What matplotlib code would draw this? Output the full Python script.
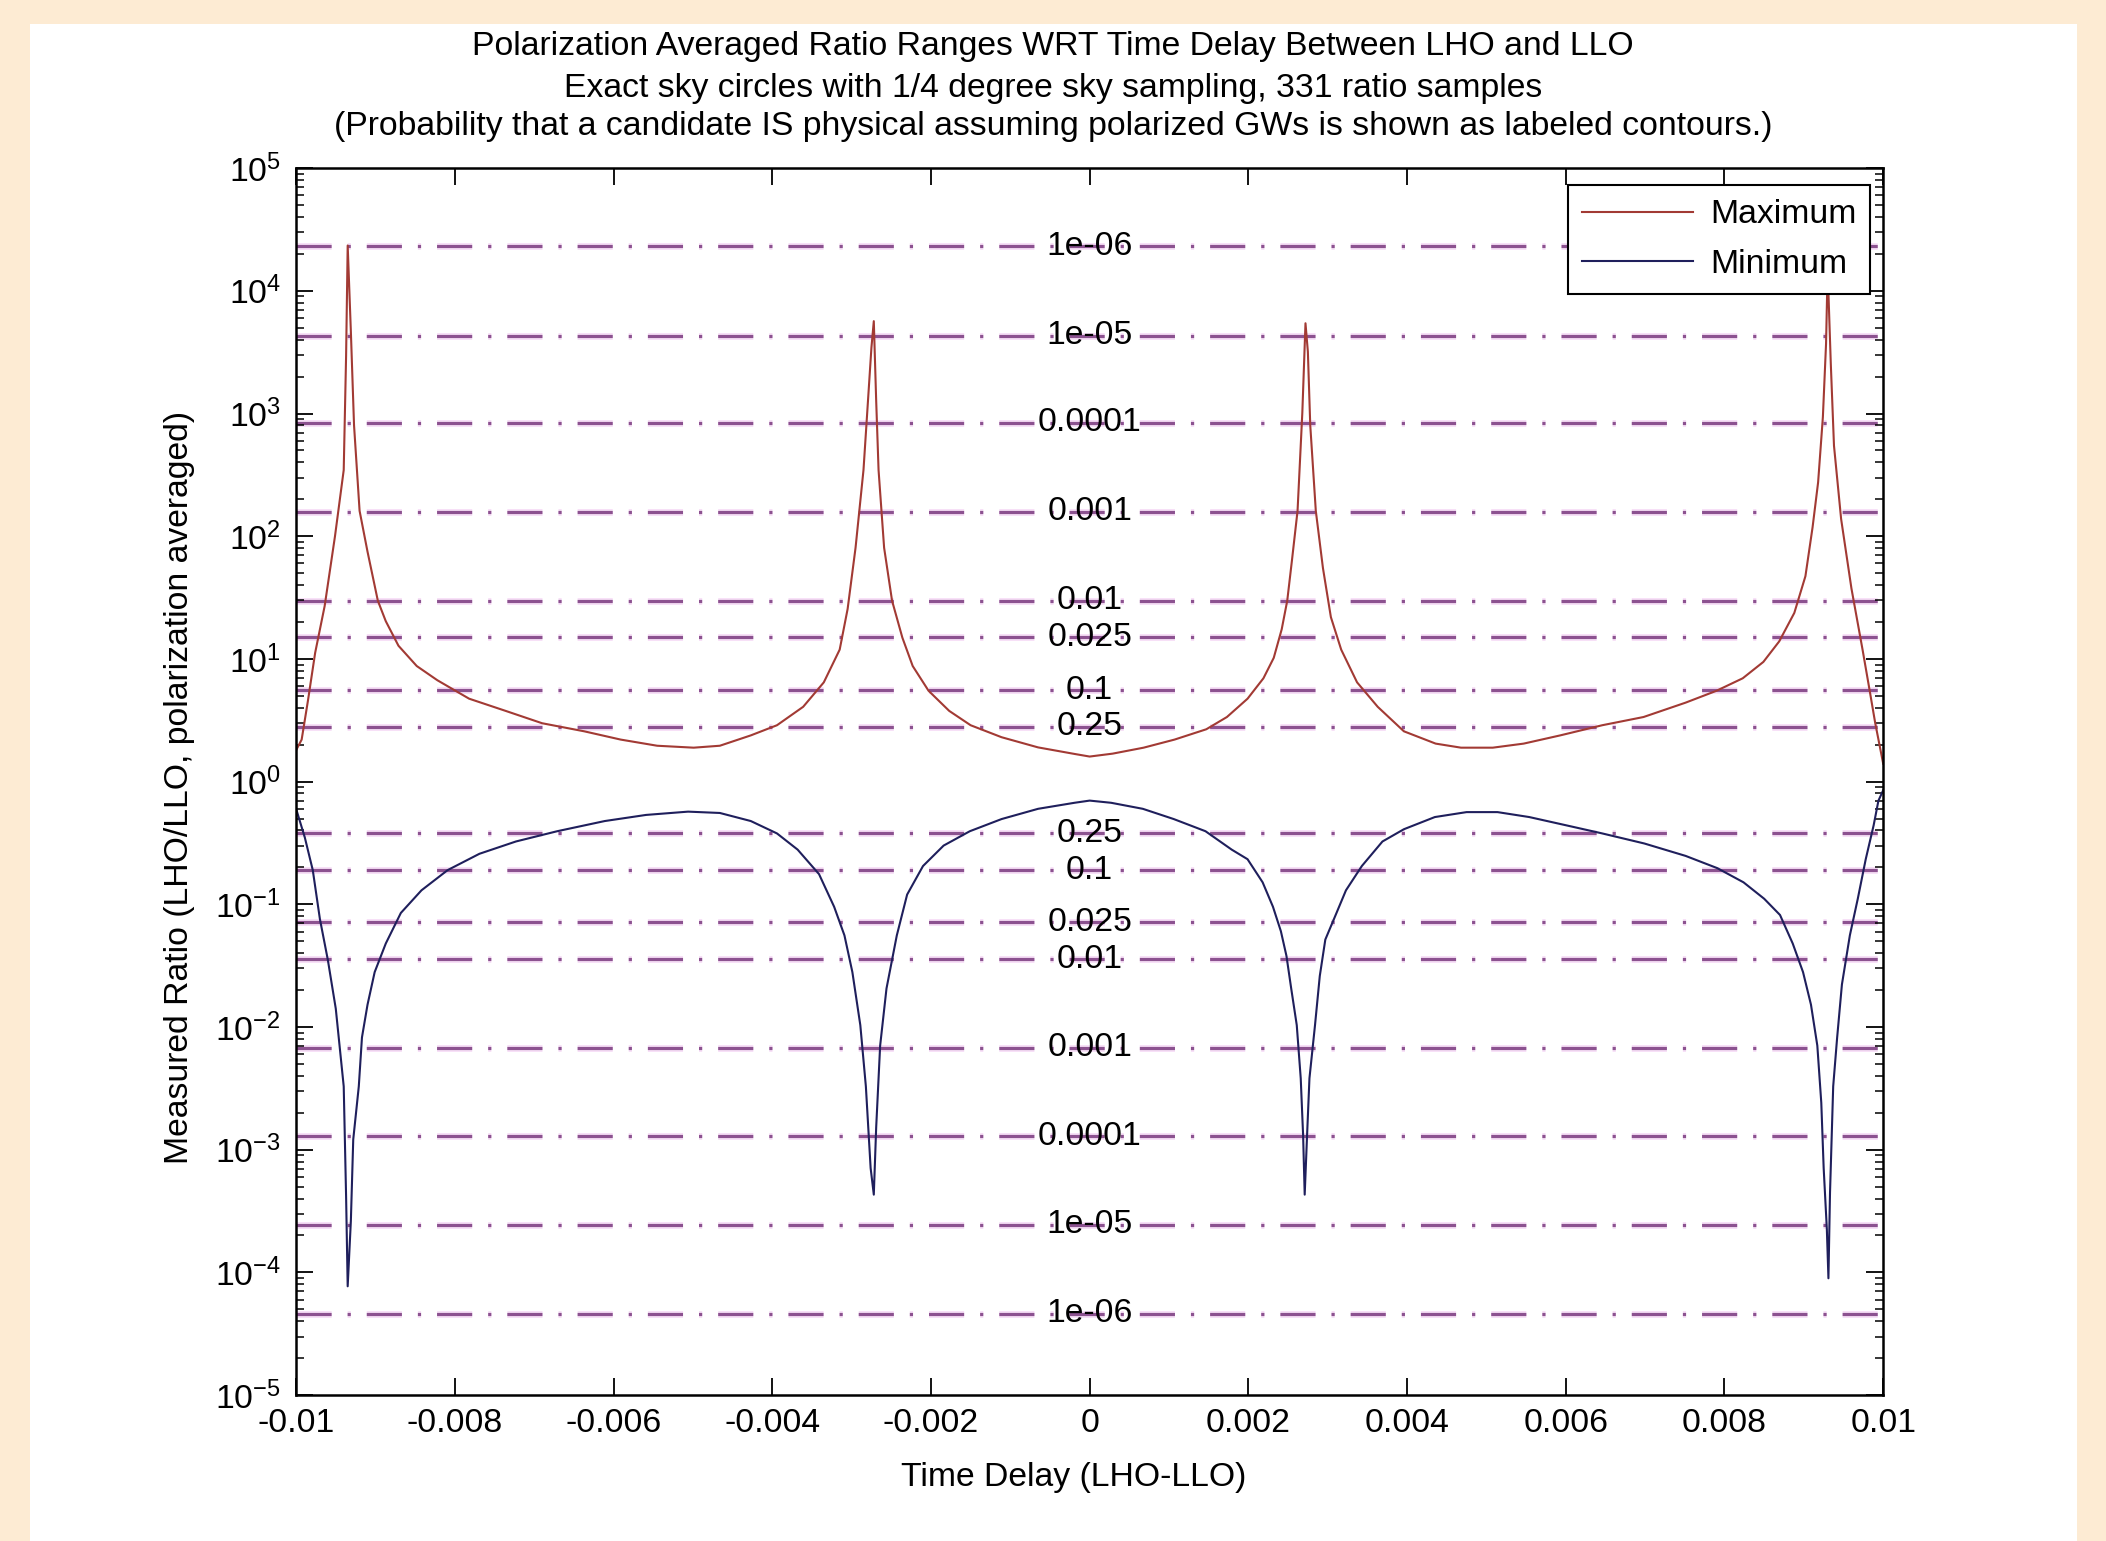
from matplotlib import pyplot as plt
from matplotlib import ticker
from matplotlib import patheffects
from matplotlib.patches import Rectangle

plt.rcParams["font.family"] = ["Liberation Sans", "DejaVu Sans"]
plt.rcParams["mathtext.fontset"] = "custom"
plt.rcParams["mathtext.rm"] = "Liberation Sans"
plt.rcParams["mathtext.default"] = "regular"

# ratio envelopes (time delay in s, ratio)
maxDelay = [
    -0.0100, -0.00993, -0.00985, -0.00976, -0.00964, -0.00951, -0.00940, -0.00937,
    -0.00935, -0.00931, -0.00927, -0.00920, -0.00910, -0.00897, -0.00887, -0.00871,
    -0.00848, -0.00822, -0.00782, -0.00736, -0.00690, -0.00637, -0.00591, -0.00545,
    -0.00499, -0.00466, -0.00427, -0.00394, -0.00361, -0.00335, -0.00315, -0.00305,
    -0.00295, -0.00285, -0.00279, -0.00275, -0.00272, -0.00269, -0.00266, -0.00259,
    -0.00249, -0.00236, -0.00223, -0.00203, -0.00177, -0.00150, -0.00111, -0.00065,
    -0.00019, 0.0, 0.00029, 0.00068, 0.00107, 0.00147, 0.00173, 0.00199, 0.00219,
    0.00232, 0.00242, 0.00249, 0.00255, 0.00262, 0.00268, 0.00272, 0.00275,
    0.00278, 0.00285, 0.00294, 0.00304, 0.00317, 0.00337, 0.00363, 0.00396,
    0.00436, 0.00468, 0.00508, 0.00547, 0.00593, 0.00646, 0.00698, 0.00751,
    0.00790, 0.00823, 0.00849, 0.00869, 0.00888, 0.00902, 0.00911, 0.00918,
    0.00924, 0.00928, 0.00930, 0.00934, 0.00938, 0.00947, 0.00960, 0.00974,
    0.00983, 0.00990, 0.0100,
]
maxRatio = [
    1.8, 2.2, 4.6, 11.2, 27, 100, 346, 2950,
    23400, 4680, 803, 161, 74.8, 29.8, 20.3, 12.8,
    8.75, 6.7, 4.74, 3.77, 2.99, 2.57, 2.2, 1.96,
    1.89, 1.96, 2.38, 2.88, 4.07, 6.44, 11.9, 25.5,
    80.5, 346, 1370, 3440, 5660, 1270, 346, 80.5,
    29.8, 14.9, 8.75, 5.5, 3.77, 2.88, 2.3, 1.9,
    1.68, 1.6, 1.69, 1.89, 2.2, 2.67, 3.36, 4.74, 6.95,
    10.2, 17.4, 29.8, 64, 161, 1010, 5440, 3190,
    803, 161, 55, 21.9, 11.9, 6.44, 4.07, 2.57,
    2.04, 1.89, 1.89, 2.04, 2.38, 2.88, 3.36, 4.4,
    5.5, 6.95, 9.45, 13.9, 23.7, 47.2, 118, 275,
    936, 3700, 15000, 2530, 547, 138, 37.5, 11.9,
    5.5, 2.99, 1.4,
]

minDelay = [
    -0.0100, -0.00989, -0.00979, -0.00970, -0.00960, -0.00950, -0.00940, -0.00937,
    -0.00935, -0.00931, -0.00928, -0.00921, -0.00917, -0.00910, -0.00901, -0.00887,
    -0.00868, -0.00842, -0.00809, -0.00769, -0.00723, -0.00671, -0.00611, -0.00559,
    -0.00506, -0.00466, -0.00427, -0.00394, -0.00368, -0.00341, -0.00322, -0.00309,
    -0.00299, -0.00289, -0.00282, -0.00276, -0.00272, -0.00269, -0.00264, -0.00256,
    -0.00243, -0.00230, -0.00210, -0.00184, -0.00151, -0.00111, -0.00065, -0.00019,
    0.0, 0.00027, 0.00067, 0.00106, 0.00146, 0.00179, 0.00199, 0.00218, 0.00231,
    0.00241, 0.00248, 0.00254, 0.00261, 0.00266, 0.00269, 0.00271, 0.00274,
    0.00277, 0.00284, 0.00290, 0.00297, 0.00310, 0.00323, 0.00343, 0.00369,
    0.00396, 0.00435, 0.00475, 0.00514, 0.00554, 0.00600, 0.00646, 0.00699,
    0.00751, 0.00791, 0.00824, 0.00850, 0.00870, 0.00886, 0.00899, 0.00909,
    0.00917, 0.00922, 0.00925, 0.00929, 0.00931, 0.00933, 0.00937, 0.00942,
    0.00948, 0.00958, 0.00968, 0.00978, 0.00988, 0.00994, 0.0100,
]
minRatio = [
    0.6, 0.35, 0.19, 0.0758, 0.0352, 0.0141, 0.00328, 4.15e-4,
    7.7e-5, 2.62e-4, 0.00121, 0.00328, 0.00823, 0.0152, 0.028, 0.0479,
    0.085, 0.13, 0.19, 0.258, 0.325, 0.394, 0.477, 0.535,
    0.569, 0.555, 0.477, 0.378, 0.279, 0.176, 0.0955, 0.0558,
    0.028, 0.01035, 0.00328, 7.08e-4, 4.3e-4, 0.00152, 0.00705, 0.0206,
    0.0558, 0.12, 0.205, 0.301, 0.394, 0.495, 0.6, 0.672,
    0.7, 0.672, 0.6, 0.495, 0.394, 0.279, 0.233, 0.151, 0.0955,
    0.0603, 0.038, 0.0206, 0.01035, 0.00382, 0.00131, 4.3e-4, 0.00131,
    0.00382, 0.01035, 0.026, 0.0516, 0.0818, 0.13, 0.205, 0.325,
    0.409, 0.514, 0.564, 0.564, 0.514, 0.441, 0.378, 0.313,
    0.248, 0.197, 0.151, 0.111, 0.0818, 0.0479, 0.028, 0.0152,
    0.00705, 0.00241, 7.08e-4, 2.25e-4, 8.95e-5, 4.47e-4, 0.00328, 0.00823,
    0.0222, 0.0558, 0.111, 0.233, 0.441, 0.699, 0.85,
]

# probability contours (horizontal levels of the ratio)
levelLabels = ["1e-06", "1e-05", "0.0001", "0.001", "0.01", "0.025", "0.1", "0.25"]
upperLevels = [2.3e4, 4.3e3, 838, 158, 29.7, 15.0, 5.54, 2.79]
lowerLevels = [4.6e-5, 2.44e-4, 1.29e-3, 6.76e-3, 0.0358, 0.0713, 0.19, 0.378]

xTicks = [-0.01, -0.008, -0.006, -0.004, -0.002, 0, 0.002, 0.004, 0.006, 0.008, 0.01]
xTickLabels = ["-0.01", "-0.008", "-0.006", "-0.004", "-0.002", "0",
               "0.002", "0.004", "0.006", "0.008", "0.01"]

titleLines = [
    "Polarization Averaged Ratio Ranges WRT Time Delay Between LHO and LLO",
    "Exact sky circles with 1/4 degree sky sampling, 331 ratio samples",
    "(Probability that a candidate IS physical assuming polarized GWs is shown as labeled contours.)",
]

fontSize = 24.3

fig = plt.figure(figsize=(21.06, 15.41), dpi=100, facecolor="#FDEBD3")
fig.add_artist(Rectangle((30 / 2106, 0), 2047 / 2106, 1 - 24 / 1541,
                         transform=fig.transFigure, facecolor="white",
                         edgecolor="none", zorder=0))

ax = fig.add_axes([0.1406, 0.0947, 0.7536, 0.7962])
ax.set_yscale("log")

halo = [patheffects.withStroke(linewidth=5, foreground="#F7E0F7")]
for lvl in upperLevels + lowerLevels:
    ax.axhline(lvl, color="#8C5290", linewidth=2.3, linestyle=(0, (11, 5, 1, 5)),
               path_effects=halo, zorder=1)
for lbl, up, lo in zip(levelLabels, upperLevels, lowerLevels):
    ax.text(0, up, lbl, ha="center", va="center", fontsize=fontSize, zorder=3)
    ax.text(0, lo, lbl, ha="center", va="center", fontsize=fontSize, zorder=3)

ax.plot(maxDelay, maxRatio, color="#A23A34", linewidth=1.5, label="Maximum", zorder=2)
ax.plot(minDelay, minRatio, color="#1F1F5C", linewidth=1.5, label="Minimum", zorder=2)

ax.set_xlim(-0.01, 0.01)
ax.set_ylim(1e-5, 1e5)
ax.set_xticks(xTicks)
ax.set_xticklabels(xTickLabels)
ax.yaxis.set_major_locator(ticker.LogLocator(base=10, numticks=20))
ax.yaxis.set_minor_locator(ticker.LogLocator(base=10, subs=range(2, 10), numticks=100))
ax.yaxis.set_minor_formatter(ticker.NullFormatter())
ax.tick_params(which="both", direction="in", top=True, right=True, labelsize=fontSize)
ax.tick_params(which="major", length=12, width=1.3)
ax.tick_params(which="minor", length=6, width=1.1)
ax.tick_params(axis="x", pad=9)
ax.tick_params(axis="y", pad=11)
for spine in ax.spines.values():
    spine.set_linewidth(1.8)

ax.set_xlabel("Time Delay (LHO-LLO)", fontsize=fontSize, va="center")
ax.xaxis.set_label_coords(0.490, -0.0668)
ax.set_ylabel("Measured Ratio (LHO/LLO, polarization averaged)", fontsize=fontSize, va="center")
ax.yaxis.set_label_coords(-0.0737, 0.4955)

leg = ax.legend(loc="upper right", bbox_to_anchor=(0.992, 0.986), borderaxespad=0,
                fancybox=False, edgecolor="black", framealpha=1, fontsize=fontSize,
                handlelength=3.3, handletextpad=0.5, labelspacing=0.55, borderpad=0.42)
leg.get_frame().set_linewidth(1.5)
leg.set_zorder(5)

for lineText, yPos in zip(titleLines, [47, 89, 127]):
    fig.text(1053 / 2106, 1 - yPos / 1541, lineText, ha="center", va="center",
             fontsize=fontSize)

plt.savefig("out.png", dpi=100, facecolor=fig.get_facecolor())
plt.close()
